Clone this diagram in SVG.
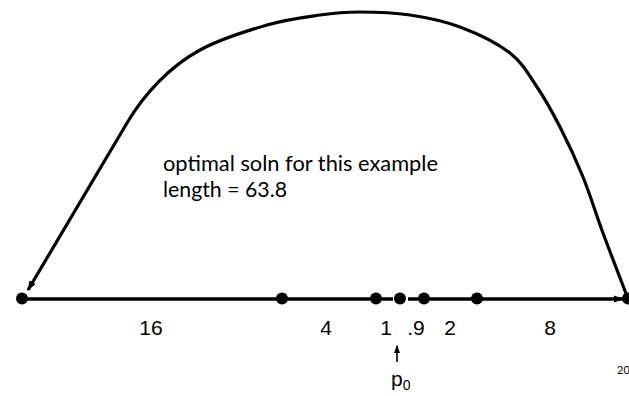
<svg xmlns="http://www.w3.org/2000/svg" width="629" height="396" viewBox="0 0 629 396">
<style>
.lbl{font-family:"Liberation Sans",Arial,sans-serif;font-size:21px;fill:#000}
.note{font-family:Lato,"Open Sans",sans-serif;font-size:21px;fill:#000}
.edge{fill:none;stroke:#000;stroke-width:3.5}
.dot{fill:#000}
</style>
<defs>
<marker id="ah" markerWidth="10" markerHeight="8" refX="9" refY="4" orient="auto" markerUnits="userSpaceOnUse">
<path d="M0,0.5 L10,4 L0,7.5 Z" fill="#000"/>
</marker>
<marker id="ahs" markerWidth="8" markerHeight="8" refX="7" refY="4" orient="auto" markerUnits="userSpaceOnUse">
<path d="M0,1 L8,4 L0,7 Z" fill="#000"/>
</marker>
</defs>
<g id="connectors">
<line class="edge" x1="22" y1="299" x2="393" y2="299"/>
<line class="edge" x1="408" y1="299" x2="623" y2="299" marker-end="url(#ah)"/>
<path class="edge" style="stroke-width:3.2" d="M627,296 C623,285.5 610.3,252.8 603,233 C595.7,213.2 590.2,194.7 583,177 C575.8,159.3 567.7,142 560,127 C552.3,112 545.3,99.3 537,87 C528.7,74.7 522.8,63 510,53 C497.2,43 476.7,33.3 460,27 C443.3,20.7 426.7,17.5 410,15 C393.3,12.5 375,12 360,12 C345,12 335.5,12.8 320,15 C304.5,17.2 287,19.2 267,25 C247,30.8 217.8,40.3 200,50 C170,66.3 144.3,93.8 127,123 L28,290" marker-end="url(#ah)"/>
<line x1="397" y1="362" x2="397" y2="346" stroke="#000" stroke-width="1.6" marker-end="url(#ahs)"/>
</g>
<g id="n0"><circle class="dot" cx="22" cy="298.5" r="6"/></g>
<g id="n1"><circle class="dot" cx="282" cy="298.5" r="6"/></g>
<g id="n2"><circle class="dot" cx="376" cy="298.5" r="6"/></g>
<g id="n3"><circle class="dot" cx="400" cy="298.5" r="6"/></g>
<g id="n4"><circle class="dot" cx="424" cy="298.5" r="6"/></g>
<g id="n5"><circle class="dot" cx="477" cy="298.5" r="6"/></g>
<g id="n6"><circle class="dot" cx="628" cy="298.5" r="6"/></g>
<g id="labels">
<text class="lbl" x="151" y="335" text-anchor="middle">16</text>
<text class="lbl" x="326" y="335" text-anchor="middle">4</text>
<text class="lbl" x="386" y="335" text-anchor="middle">1</text>
<text class="lbl" x="416" y="335" text-anchor="middle">.9</text>
<text class="lbl" x="450" y="335" text-anchor="middle">2</text>
<text class="lbl" x="550" y="335" text-anchor="middle">8</text>
<text class="lbl" x="391" y="386" font-size="22">p<tspan font-size="14" dy="4">0</tspan></text>
<text class="note" x="163" y="171" textLength="275" lengthAdjust="spacingAndGlyphs">optimal soln for this example</text>
<text class="note" x="163" y="197" textLength="124" lengthAdjust="spacingAndGlyphs">length = 63.8</text>
<text x="617" y="374" font-family="Lato,'Open Sans',sans-serif" font-size="11" fill="#000">20</text>
</g>
</svg>
